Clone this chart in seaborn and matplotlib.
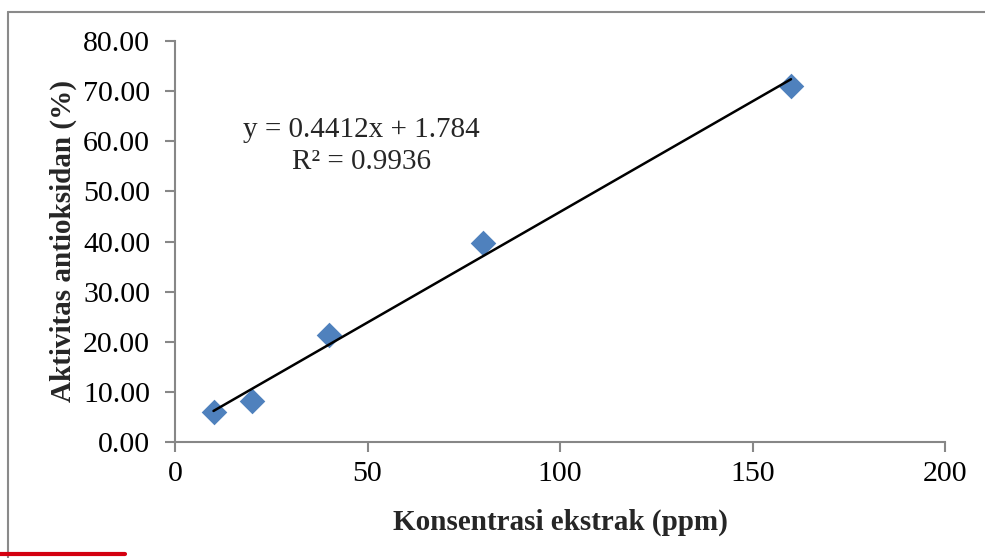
import numpy as np
import pandas as pd
import seaborn as sns
import matplotlib
matplotlib.use("Agg")
import matplotlib.pyplot as plt
from matplotlib.lines import Line2D
from matplotlib.ticker import FormatStrFormatter

# Data
konsentrasi = [10, 20, 40, 80, 160]
aktivitas = [5.95, 8.15, 21.35, 39.7, 71.0]
slope = 0.4412
intercept = 1.784
r2 = 0.9936
x_ticks = [0, 50, 100, 150, 200]
y_ticks = [0, 10, 20, 30, 40, 50, 60, 70, 80]

sns.set_theme(style="white")
plt.rcParams['font.family'] = ['Liberation Serif', 'DejaVu Serif']

df = pd.DataFrame({"x": konsentrasi, "y": aktivitas})
trend_x = [min(konsentrasi), max(konsentrasi)]
trend = pd.DataFrame({"x": trend_x, "y": [slope * v + intercept for v in trend_x]})

fig = plt.figure(figsize=(9.85, 5.58), dpi=100)
ax = fig.add_axes([175/985, 1-442/558, (945-175)/985, (442-41)/558])

sns.lineplot(data=trend, x="x", y="y", color="black", linewidth=1.8, ax=ax, zorder=3)
sns.scatterplot(data=df, x="x", y="y", marker="D", s=170, color="#4F81BD",
                edgecolor="#4F81BD", linewidth=0, ax=ax, zorder=2)

ax.set_xlim(0, 200)
ax.set_ylim(0, 80)
ax.set_xticks(x_ticks)
ax.set_yticks(y_ticks)
ax.yaxis.set_major_formatter(FormatStrFormatter('%.2f'))

for s in ["top", "right"]:
    ax.spines[s].set_visible(False)
for s in ["left", "bottom"]:
    ax.spines[s].set_color("#878787")
    ax.spines[s].set_linewidth(1.5)
ax.tick_params(axis="both", which="major", direction="out", length=7, width=1.5,
               color="#878787", labelsize=21.5, labelcolor="black",
               left=True, bottom=True)
ax.tick_params(axis="y", pad=11)
ax.tick_params(axis="x", pad=7)

ax.set_xlabel("Konsentrasi ekstrak (ppm)", fontsize=21, fontweight="bold", labelpad=15)
ax.set_ylabel("Aktivitas antioksidan (%)", fontsize=21, fontweight="bold", labelpad=4)

ax.text(48.4, 59.0, f"y = {slope}x + {intercept}\nR² = {r2}", ha="center", va="center",
        fontsize=21, linespacing=1.3)

# figure border and red mark
fig.add_artist(Line2D([8/985, 8/985], [1-12/558, 0], transform=fig.transFigure,
                      color="#8a8a8a", linewidth=1.5))
fig.add_artist(Line2D([8/985, 1], [1-12/558, 1-12/558], transform=fig.transFigure,
                      color="#8a8a8a", linewidth=1.5))
fig.add_artist(Line2D([0, 125/985], [1-554/558, 1-554/558], transform=fig.transFigure,
                      color="#d40010", linewidth=3))

fig.savefig("out.png", dpi=100)
